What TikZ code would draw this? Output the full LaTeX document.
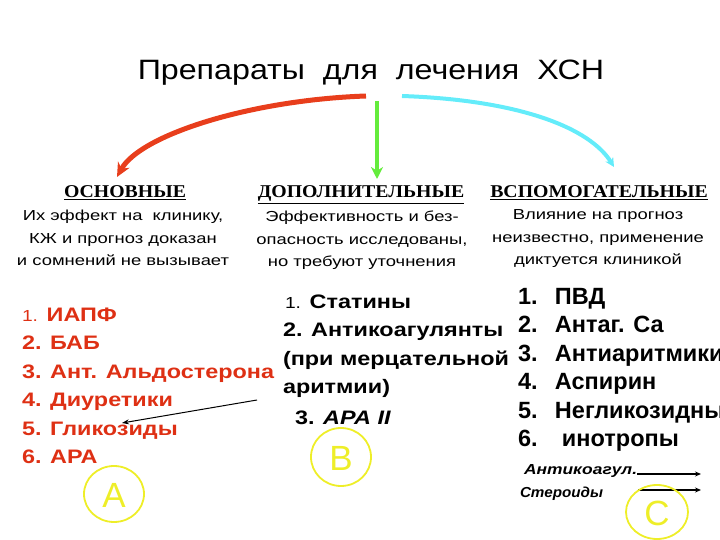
\documentclass[tikz,border=0pt]{standalone}
\usepackage{fontspec}
\setmainfont{Liberation Sans}
\newfontfamily\titlefont[FakeStretch=1.15]{Liberation Sans}
\newfontfamily\serifhead[FakeStretch=1.1]{Liberation Serif}
\newfontfamily\descfont[FakeStretch=1.27]{Liberation Sans}
\newfontfamily\listfont[FakeStretch=1.2]{Liberation Sans}
\newfontfamily\smallfonta[FakeStretch=1.2]{Liberation Sans}
\newfontfamily\smallfontb[FakeStretch=1.05]{Liberation Sans}
\usetikzlibrary{arrows.meta}
\definecolor{redtxt}{RGB}{222,48,20}
\definecolor{redarr}{RGB}{232,62,28}
\definecolor{greenarr}{RGB}{100,236,60}
\definecolor{cyanarr}{RGB}{100,236,250}
\definecolor{yel}{RGB}{238,238,40}
\tikzset{
  every node/.style={inner sep=0pt, outer sep=0pt},
  head/.style={font=\serifhead\bfseries\fontsize{18}{18}\selectfont, anchor=base},
  desc/.style={font=\descfont\fontsize{14.5}{22.5}\selectfont, align=center, anchor=north},
  redl/.style={font=\listfont\bfseries\fontsize{19.5}{19.5}\selectfont, text=redtxt, anchor=base west},
  blk/.style={font=\listfont\bfseries\fontsize{19.5}{19.5}\selectfont, anchor=base west},
  rgt/.style={font=\bfseries\fontsize{23.5}{23.5}\selectfont, anchor=base west},
  ring/.style={draw=yel, line width=1.8pt},
  letter/.style={font=\fontsize{35}{35}\selectfont, text=yel},
  small/.style={font=\bfseries\itshape\fontsize{14.5}{14.5}\selectfont, anchor=base west},
}
\newcommand{\numbox}[2]{\makebox[#1][l]{#2}}
\begin{document}
\begin{tikzpicture}[x=1pt,y=-1pt]
\useasboundingbox (0,0) rectangle (720,540);
\node[font=\titlefont\fontsize{28}{28}\selectfont, anchor=base] (title) at (371,80) {Препараты\ \ для\ \ лечения\ \ ХСН};

\coordinate (rs) at (366,96);
\coordinate (re) at (117,177);
\coordinate (gs) at (377,101);
\coordinate (ge) at (377,179);
\coordinate (cs) at (402,96);
\coordinate (ce) at (614,167);
\draw[redarr, line width=5pt, -{Stealth[length=14pt,width=13pt]}] (rs) .. controls (250,100) and (140,135) .. (re);
\draw[greenarr, line width=4pt, -{Stealth[length=12pt,width=12pt]}] (gs) -- (ge);
\draw[cyanarr, line width=4pt, -{Stealth[length=9pt,width=9pt]}] (cs) .. controls (520,100) and (590,128) .. (ce);

\node[head] (h1) at (125,198) {\underline{ОСНОВНЫЕ}};
\node[head] (h2) at (361,198) {\underline{ДОПОЛНИТЕЛЬНЫЕ}};
\node[head] (h3) at (599,198) {\underline{ВСПОМОГАТЕЛЬНЫЕ}};

\node[desc] (d1) at (123,210) {Их эффект на\ \ клинику,\\ КЖ и прогноз доказан\\ и сомнений не вызывает};
\node[desc] (d2) at (362,211) {Эффективность и без-\\ опасность исследованы,\\ но требуют уточнения};
\node[desc] (d3) at (598,210) {Влияние на прогноз\\ неизвестно, применение\\ диктуется клиникой};

\node[redl] (l1) at (22,321) {{\mdseries\fontsize{16}{16}\selectfont 1.} ИАПФ};
\node[redl] (l2) at (22,349.5) {2. БАБ};
\node[redl] (l3) at (22,378) {3. Ант. Альдостерона};
\node[redl] (l4) at (22,406.5) {4. Диуретики};
\node[redl] (l5) at (22,435) {5. Гликозиды};
\node[redl] (l6) at (22,463.5) {6. АРА};

\node[blk] (m1) at (285,308) {{\mdseries\fontsize{16}{16}\selectfont 1.} Статины};
\node[blk] (m2) at (283,336.5) {2. Антикоагулянты};
\node[blk] (m3) at (283,365) {(при мерцательной};
\node[blk] (m4) at (283,393.5) {аритмии)};
\node[blk] (m5) at (295,424) {3. \textit{АРА II}};

\node[rgt] (r1) at (518,304) {\numbox{37pt}{1.}ПВД};
\node[rgt] (r2) at (518,332.5) {\numbox{37pt}{2.}Антаг. Са};
\node[rgt] (r3) at (518,361) {\numbox{37pt}{3.}Антиаритмики};
\node[rgt] (r4) at (518,389.5) {\numbox{37pt}{4.}Аспирин};
\node[rgt] (r5) at (518,418) {\numbox{37pt}{5.}Негликозидные};
\node[rgt] (r6) at (518,446.5) {\numbox{44pt}{6.}инотропы};

\coordinate (ka) at (257,400);
\coordinate (kb) at (122,423);
\draw[line width=1pt, -{Stealth[length=7pt,width=5pt]}] (ka) -- (kb);

\node[small, font=\smallfonta\bfseries\itshape\fontsize{14.5}{14.5}\selectfont] (s1) at (524,474) {Антикоагул.};
\node[small, font=\smallfontb\bfseries\itshape\fontsize{14.5}{14.5}\selectfont] (s2) at (520,497) {Стероиды};
\coordinate (e1) at (701,474);
\coordinate (e2) at (701,490);
\coordinate (b2) at (638,490);
\draw[line width=1.5pt, -{Stealth[length=6pt,width=5pt]}] (s1.base east) -- (e1);
\draw[line width=1.5pt, -{Stealth[length=6pt,width=5pt]}] (b2) -- (e2);

\draw[ring] (114,494) ellipse (30 and 28);
\node[letter] (A) at (114,495) {A};
\draw[ring] (341,457) ellipse (30 and 29);
\node[letter] (B) at (341,458) {B};
\draw[ring] (657,512) ellipse (31 and 27);
\node[letter] (C) at (657,513) {C};
\end{tikzpicture}
\end{document}
